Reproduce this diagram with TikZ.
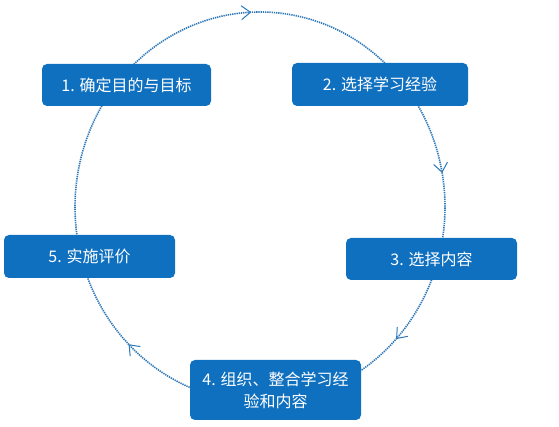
\documentclass[tikz,border=0pt]{standalone}
\usepackage{fontspec}
\setmainfont{Noto Sans CJK SC}
\usetikzlibrary{arrows.meta,decorations.markings,calc}
\definecolor{boxblue}{HTML}{1070C0}
\definecolor{ringblue}{HTML}{2F78B8}
\begin{document}
\begin{tikzpicture}[x=1pt,y=1pt,
  stepbox/.style={fill=boxblue, rounded corners=5pt, text=white,
    font=\fontsize{16}{22}\selectfont, align=center, inner sep=0pt,
    minimum width=171pt, minimum height=42pt},
  ring/.style={ringblue, line width=1.6pt, dash pattern=on 1.3pt off 0.9pt},
  midtip/.style={postaction={decorate}, decoration={markings,
    mark=at position #1 with {\arrow{Straight Barb[length=9pt,width=14pt,line width=1pt]}}}}
]
\fill[white] (0,0) rectangle (559,427);
\useasboundingbox (0,0) rectangle (559,427);
\coordinate (E) at (260,220);
% points on the ring, just inside the boxes
\coordinate (p1t) at ($(E)+(135:185pt and 195pt)$);
\coordinate (p2t) at ($(E)+(45:185pt and 195pt)$);
\coordinate (p2b) at ($(E)+(33:185pt and 195pt)$);
\coordinate (p3t) at ($(E)+(-11:185pt and 195pt)$);
\coordinate (p3b) at ($(E)+(-20:185pt and 195pt)$);
\coordinate (p4r) at ($(E)+(-58:185pt and 195pt)$);
\coordinate (p4l) at ($(E)+(249:185pt and 195pt)$);
\coordinate (p5b) at ($(E)+(200:185pt and 195pt)$);
\coordinate (p5t) at ($(E)+(190:185pt and 195pt)$);
\coordinate (p1b) at ($(E)+(147:185pt and 195pt)$);
% connectors
\draw[ring, midtip=0.47] (p1t) arc[start angle=135, end angle=45, x radius=185pt, y radius=195pt];
\draw[ring, midtip=0.52] (p2b) arc[start angle=33, end angle=-11, x radius=185pt, y radius=195pt];
\draw[ring, midtip=0.6] (p3b) arc[start angle=-20, end angle=-58, x radius=185pt, y radius=195pt];
\draw[ring, midtip=0.49] (p4l) arc[start angle=249, end angle=200, x radius=185pt, y radius=195pt];
\draw[ring] (p5t) arc[start angle=190, end angle=147, x radius=185pt, y radius=195pt];
% boxes
\node[stepbox, minimum width=169pt] (b1) at (126.5,342) {1. 确定目的与目标};
\node[stepbox, minimum width=176pt, minimum height=43pt] (b2) at (380,342.5) {2. 选择学习经验};
\node[stepbox] (b3) at (431.5,168) {3. 选择内容};
\node[stepbox, minimum height=60pt] (b4) at (275.5,37) {4. 组织、整合学习经\\验和内容};
\node[stepbox, minimum height=43pt] (b5) at (89.5,170.5) {5. 实施评价};
\end{tikzpicture}
\end{document}
